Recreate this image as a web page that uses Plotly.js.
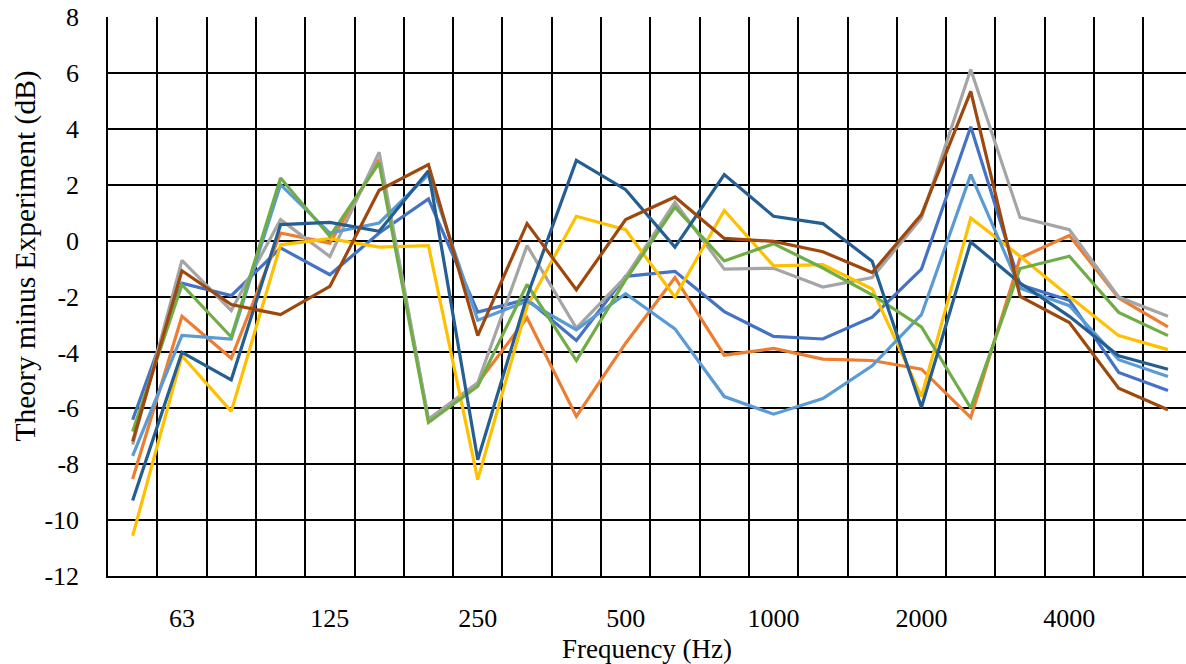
<!DOCTYPE html>
<html>
<head>
<meta charset="utf-8">
<script src="https://cdn.plot.ly/plotly-3.0.1.min.js"></script>
<style>
  html, body { margin: 0; padding: 0; background: #fff; overflow: hidden; }
  #chart { width: 1186px; height: 664px; }
</style>
</head>
<body>
<div id="chart"></div>
<script>
// One-third-octave band centre frequencies (Hz)
const categories = ["50","63","80","100","125","160","200","250","315","400","500","630","800","1000","1250","1600","2000","2500","3150","4000","5000","6300"];
// Labelled bands on the x axis
const tickLabels = ["63","125","250","500","1000","2000","4000"];
// Y axis tick values and labels (hyphen minus, as in the original)
const yTickVals = [-12,-10,-8,-6,-4,-2,0,2,4,6,8];
const yTickText = ["-12","-10","-8","-6","-4","-2","0","2","4","6","8"];

// Theory minus Experiment (dB), one array per series
const seriesBlue      = [-6.41,-1.52,-1.97,-0.26,-1.22, 0.27, 1.49,-2.56,-2.10,-3.57,-1.28,-1.10,-2.54,-3.43,-3.52,-2.74,-1.02, 4.07,-1.58,-2.14,-4.72,-5.36];
const seriesOrange    = [-8.53,-2.71,-4.21, 0.27,-0.09, 2.90,-6.40,-5.10,-2.76,-6.29,-3.67,-1.32,-4.10,-3.86,-4.24,-4.29,-4.60,-6.33,-0.62, 0.18,-2.05,-3.09];
const seriesGray      = [-7.30,-0.71,-2.50, 0.75,-0.57, 3.16,-6.39,-5.09,-0.18,-3.13,-1.30, 1.37,-1.02,-0.99,-1.66,-1.32, 0.81, 6.12, 0.83, 0.39,-2.02,-2.71];
const seriesYellow    = [-10.56,-4.12,-6.11,-0.15, 0.07,-0.23,-0.18,-8.55,-2.35, 0.87, 0.39,-2.02, 1.08,-0.90,-0.86,-1.73,-5.58, 0.81,-0.56,-2.00,-3.40,-3.90];
const seriesLightBlue = [-7.70,-3.39,-3.52, 2.00, 0.27, 0.63, 2.36,-2.85,-2.17,-3.19,-1.90,-3.16,-5.58,-6.21,-5.65,-4.48,-2.65, 2.36,-1.70,-2.33,-4.26,-4.86];
const seriesGreen     = [-6.83,-1.58,-3.45, 2.24, 0.15, 2.78,-6.51,-5.21,-1.57,-4.29,-1.40, 1.20,-0.73,-0.11,-0.98,-1.94,-3.09,-5.99,-1.00,-0.56,-2.57,-3.40];
const seriesDarkBlue  = [-9.30,-4.00,-4.98, 0.57, 0.65, 0.33, 2.50,-7.84,-2.00, 2.87, 1.82,-0.23, 2.36, 0.87, 0.61,-0.74,-5.96,-0.05,-1.52,-2.71,-4.12,-4.60];
const seriesBrown     = [-7.19,-1.08,-2.29,-2.65,-1.64, 1.80, 2.72,-3.40, 0.61,-1.76, 0.75, 1.56, 0.08,-0.03,-0.40,-1.14, 0.93, 5.34,-2.00,-2.93,-5.28,-6.05];

const seriesList = [
  {name: "Series 1", y: seriesBlue,      color: "#4472C4"},
  {name: "Series 2", y: seriesOrange,    color: "#ED7D31"},
  {name: "Series 3", y: seriesGray,      color: "#A5A5A5"},
  {name: "Series 4", y: seriesYellow,    color: "#FFC000"},
  {name: "Series 5", y: seriesLightBlue, color: "#5B9BD5"},
  {name: "Series 6", y: seriesGreen,     color: "#70AD47"},
  {name: "Series 7", y: seriesDarkBlue,  color: "#255E91"},
  {name: "Series 8", y: seriesBrown,     color: "#9E480E"}
];

const xIdx = categories.map((c, i) => i);
const traces = seriesList.map(s => ({
  type: "scatter",
  mode: "lines",
  name: s.name,
  x: xIdx,
  y: s.y,
  text: categories,
  hovertemplate: "%{text} Hz: %{y} dB<extra>" + s.name + "</extra>",
  line: {color: s.color, width: 3.2}
}));

const boundaries = [];
for (let i = 0; i <= categories.length; i++) boundaries.push(i - 0.5);

const fontFam = '"Liberation Serif", "Times New Roman", Times, serif';

const layout = {
  width: 1186,
  height: 664,
  margin: {l: 108, r: 0, t: 17, b: 88},
  paper_bgcolor: "#ffffff",
  plot_bgcolor: "#ffffff",
  showlegend: false,
  font: {family: fontFam, color: "#000", size: 26},
  xaxis: {
    range: [-0.5, 21.366],
    tickmode: "array",
    tickvals: tickLabels.map(l => categories.indexOf(l)),
    ticktext: tickLabels,
    ticks: "",
    ticklabelstandoff: 18,
    showgrid: false,
    zeroline: false,
    showline: true,
    linecolor: "#000",
    linewidth: 1.5,
    tickfont: {family: fontFam, size: 26, color: "#000"},
    minor: {tickvals: boundaries, showgrid: true, gridcolor: "#000", gridwidth: 1.5, ticks: ""},
    title: {text: "Frequency (Hz)", font: {family: fontFam, size: 27, color: "#000"}, standoff: 10}
  },
  yaxis: {
    range: [-12, 8],
    tickmode: "array",
    tickvals: yTickVals,
    ticktext: yTickText,
    ticks: "",
    ticklabelstandoff: 22,
    showgrid: true,
    gridcolor: "#000",
    gridwidth: 1.5,
    zeroline: false,
    showline: true,
    linecolor: "#000",
    linewidth: 1.5,
    tickfont: {family: fontFam, size: 26, color: "#000"}
  },
  annotations: [{
    text: "Theory minus Experiment (dB)",
    xref: "paper", yref: "paper",
    x: (25 - 108) / 1078, y: (576 - 256.5) / 559,
    xanchor: "center", yanchor: "middle",
    textangle: -90,
    showarrow: false,
    font: {family: fontFam, size: 29.5, color: "#000"}
  }]
};

Plotly.newPlot("chart", traces, layout, {displayModeBar: false, responsive: false});
</script>
</body>
</html>
